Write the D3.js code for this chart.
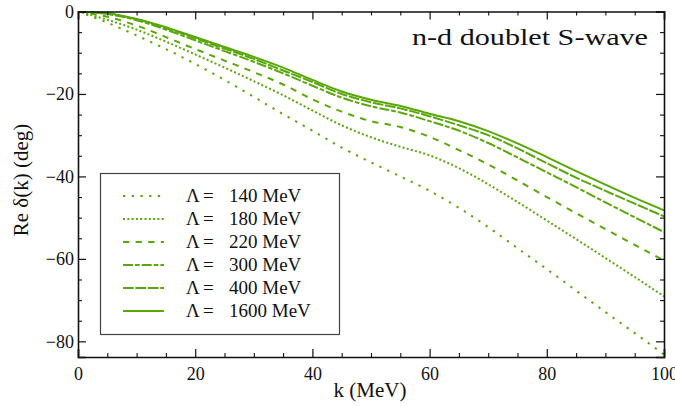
<!DOCTYPE html>
<html>
<head>
<meta charset="utf-8">
<script src="https://cdn.jsdelivr.net/npm/d3@7"></script>
<style>
  body { margin: 0; background: #fff; }
  text { font-family: "Liberation Serif", "DejaVu Serif", serif; fill: #111; }
  .axis path, .axis line { stroke: #111; }
  .axis text { font-size: 18px; font-family: "Liberation Serif", serif; }
</style>
</head>
<body>
<div id="chart"></div>
<script>
const kValues = [0, 5, 10, 15, 20, 25, 30, 35, 40, 45, 50, 55, 60, 65, 70, 75, 80, 85, 90, 95, 100];
const cutoffs = [140, 180, 220, 300, 400, 1600];
const delta140 = [0, -2.7, -5.8, -9.1, -12.7, -16.6, -20.7, -24.9, -28.9, -33.0, -36.6, -40.0, -43.5, -47.6, -52.3, -57.4, -62.5, -67.7, -72.9, -78.0, -83.2];
const delta180 = [0, -2.0, -4.4, -7.3, -10.4, -13.6, -16.9, -20.3, -24.0, -27.6, -30.5, -32.8, -34.9, -38.0, -41.9, -46.2, -50.7, -55.2, -59.8, -64.4, -69.1];
const delta220 = [0, -1.3, -3.4, -6.2, -9.1, -11.9, -14.7, -17.7, -21.3, -24.3, -26.6, -28.0, -30.4, -33.6, -37.1, -41.0, -45.0, -48.9, -52.8, -56.6, -60.4];
const delta300 = [0, -0.6, -2.1, -4.4, -7.0, -9.6, -12.2, -15.0, -18.0, -20.9, -23.0, -24.5, -26.6, -28.9, -31.9, -35.4, -39.0, -42.6, -46.3, -49.9, -53.5];
const delta400 = [0, -0.5, -1.9, -4.0, -6.5, -9.0, -11.5, -14.3, -17.1, -20.0, -22.0, -23.5, -25.4, -27.6, -30.0, -33.2, -36.8, -40.3, -43.5, -46.6, -49.7];
const delta1600 = [0, -0.4, -1.8, -3.8, -6.2, -8.6, -11.0, -13.6, -16.6, -19.4, -21.4, -22.9, -24.8, -26.6, -29.0, -32.0, -35.3, -38.7, -42.0, -45.2, -48.2];
const xTicks = [0, 20, 40, 60, 80, 100];
const yTicks = [0, -20, -40, -60, -80];

const seriesValues = [delta140, delta180, delta220, delta300, delta400, delta1600];
const dashes = ["2.3,6.4", "2,2.3", "6.3,6.3", "10,2,4.7,2", "10.7,1.7", null];
const green = "#58a80a";

const W = 675, H = 406;
const pLeft = 78, pRight = 664, pTop = 11.5, pBottom = 357;

const svg = d3.select("#chart").append("svg")
    .attr("width", W)
    .attr("height", H);

const x = d3.scaleLinear().domain([0, 100]).range([pLeft, pRight]);
const y = d3.scaleLinear().domain([-83.8, 0]).range([pBottom, pTop]);

// curves
const line = d3.line()
    .x(d => x(d[0]))
    .y(d => y(d[1]))
    .curve(d3.curveMonotoneX);

const plot = svg.append("g");
plot.append("clipPath").attr("id", "clip")
    .append("rect").attr("x", pLeft).attr("y", pTop)
    .attr("width", pRight - pLeft).attr("height", pBottom - pTop);

seriesValues.forEach((vals, i) => {
    plot.append("path")
        .datum(kValues.map((k, j) => [k, vals[j]]))
        .attr("clip-path", "url(#clip)")
        .attr("d", line)
        .attr("fill", "none")
        .attr("stroke", green)
        .attr("stroke-width", 2)
        .attr("stroke-dasharray", dashes[i]);
});

// axes, ticks pointing inward on all four sides
const minorX = d3.range(0, 101, 5).filter(v => !xTicks.includes(v));
const minorY = d3.range(-80, 1, 5).filter(v => !yTicks.includes(v));

function addAxis(axisFn, scale, pos, major, minor, pad) {
    const g = svg.append("g").attr("class", "axis").attr("transform", pos);
    g.call(axisFn(scale).tickValues(major).tickSize(-8).tickPadding(pad || 0)
        .tickFormat(pad ? (d => d < 0 ? "\u2212" + Math.abs(d) : d) : ""));
    g.select(".domain").attr("stroke-width", 1.6);
    g.selectAll(".tick line").attr("stroke-width", 1.2);
    const m = svg.append("g").attr("class", "axis").attr("transform", pos);
    m.call(axisFn(scale).tickValues(minor).tickSize(-4).tickFormat(""));
    m.select(".domain").remove();
    m.selectAll(".tick line").attr("stroke-width", 1.1);
    return g;
}

addAxis(d3.axisBottom, x, `translate(0,${pBottom})`, xTicks, minorX, 10);
addAxis(d3.axisTop, x, `translate(0,${pTop})`, xTicks, minorX, 0);
addAxis(d3.axisLeft, y, `translate(${pLeft},0)`, yTicks, minorY, 4);
addAxis(d3.axisRight, y, `translate(${pRight},0)`, yTicks, minorY, 0);

// axis titles
svg.append("text")
    .attr("x", 370).attr("y", 397)
    .attr("text-anchor", "middle")
    .attr("font-size", 21)
    .text("k (MeV)");

svg.append("text")
    .attr("transform", "translate(28,180) rotate(-90)")
    .attr("text-anchor", "middle")
    .attr("font-size", 21)
    .text("Re \u03b4(k)  (deg)");

// panel title
svg.append("text")
    .attr("x", 648).attr("y", 45)
    .attr("text-anchor", "end")
    .attr("font-size", 24)
    .attr("textLength", 236)
    .attr("lengthAdjust", "spacingAndGlyphs")
    .text("n-d doublet S-wave");

// legend
const lg = svg.append("g");
lg.append("rect")
    .attr("x", 100.5).attr("y", 173.5)
    .attr("width", 239).attr("height", 161)
    .attr("fill", "#fff")
    .attr("stroke", "#444")
    .attr("stroke-width", 1.2);

const rowY = [196, 219, 242, 265, 288, 311];
cutoffs.forEach((c, i) => {
    lg.append("line")
        .attr("x1", 123).attr("x2", 164)
        .attr("y1", rowY[i]).attr("y2", rowY[i])
        .attr("stroke", green)
        .attr("stroke-width", 2)
        .attr("stroke-dasharray", dashes[i]);
    const t = lg.append("text")
        .attr("y", rowY[i] + 6)
        .attr("font-size", 19);
    t.append("tspan").attr("x", 186).text("\u039b");
    t.append("tspan").attr("x", 203).text("=");
    t.append("tspan").attr("x", 229).text(c + " MeV");
});
</script>
</body>
</html>
